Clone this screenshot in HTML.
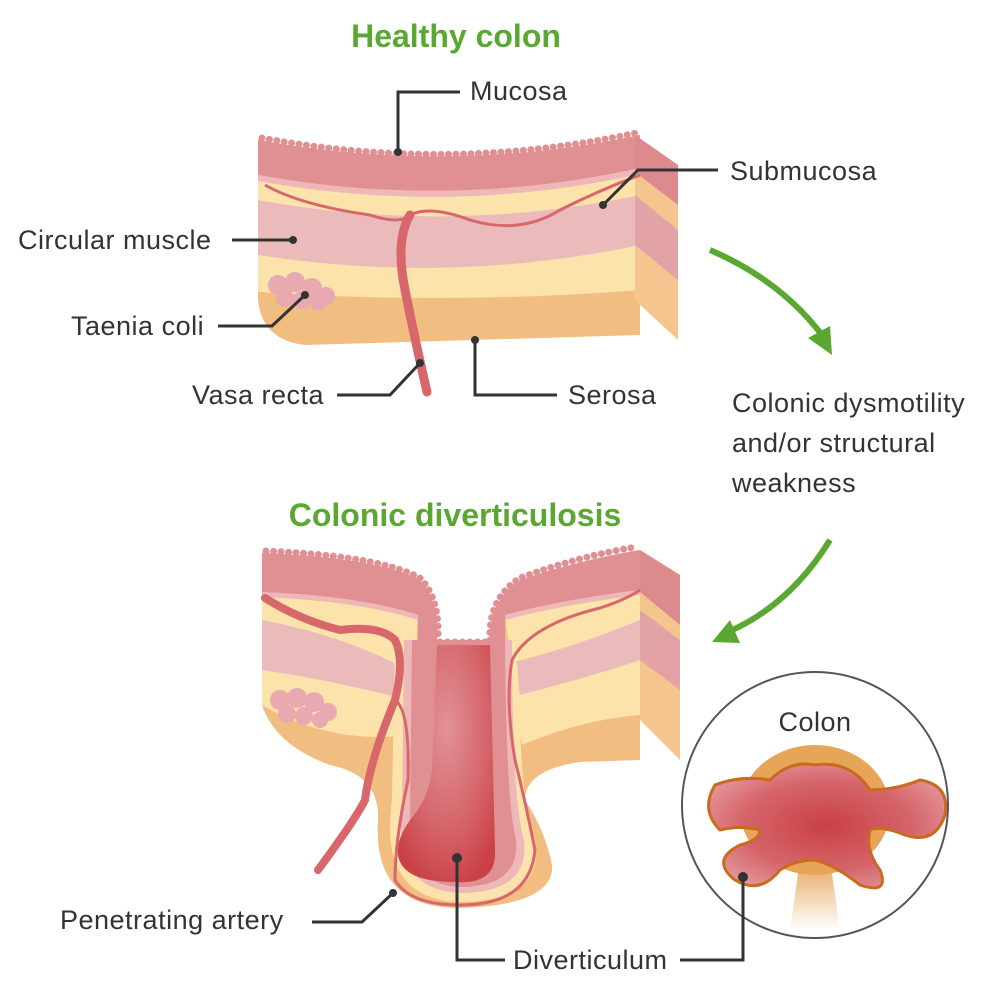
<!DOCTYPE html>
<html><head><meta charset="utf-8"><style>
body{margin:0;background:#fff}
svg{display:block}
text{font-family:"Liberation Sans",sans-serif;fill:#333;font-size:27px;letter-spacing:0.5px}
.t{fill:#5aa831;font-weight:bold;font-size:32px;letter-spacing:0}
.l{stroke:#333;stroke-width:3;fill:none}
.v{fill:none;stroke:#e09092;stroke-width:7;stroke-dasharray:0 7.5;stroke-linecap:round}
</style></head><body>
<svg width="1005" height="995" viewBox="0 0 1005 995">
<defs>
<radialGradient id="rg" cx="0.5" cy="0.35" r="0.7"><stop offset="0" stop-color="#e29296"/><stop offset="0.6" stop-color="#d5656b"/><stop offset="1" stop-color="#c94045"/></radialGradient>
<radialGradient id="cg" cx="0.5" cy="0.5" r="0.6"><stop offset="0" stop-color="#c94045"/><stop offset="0.6" stop-color="#d5656b"/><stop offset="1" stop-color="#e59ba0"/></radialGradient>
<linearGradient id="stem" x1="0" y1="0" x2="0" y2="1"><stop offset="0" stop-color="#e7a55a"/><stop offset="1" stop-color="#fff"/></linearGradient>
</defs>
<text class="t" x="456" y="47" text-anchor="middle">Healthy colon</text>
<g>
<path d="M258,140 Q450,175 640,135 L640,335 L305,345 Q262,340 258,300 Z" fill="#f2bd80"/>
<path d="M258,140 Q450,175 640,135 L640,290 Q450,305 258,292 Z" fill="#fbe3ab"/>
<path d="M258,200 Q450,235 640,195 L640,245 Q450,285 258,255 Z" fill="#ebbbbc"/>
<path d="M258,140 Q450,175 640,135 L640,168 Q450,210 258,175 Z" fill="#e09092"/>
<path d="M258,175 Q450,210 640,168 L640,174 Q450,216 258,181 Z" fill="#eeb7b8"/>
<path class="v" d="M262,138 Q450,173 636,133"/>
<polygon points="635,135 678,165 678,340 635,300" fill="#f4c58e"/>
<polygon points="635,135 678,165 678,205 635,172" fill="#dc8a8d"/>
<polygon points="635,195 678,230 678,280 635,245" fill="#e3a3a6"/>
<path d="M265,185 Q300,205 370,215 Q400,225 410,215 Q430,205 470,220 Q520,235 560,210 Q600,190 640,175" fill="none" stroke="#d8676b" stroke-width="3"/>
<path d="M410,215 Q395,240 405,290 Q415,340 427,392" fill="none" stroke="#d8676b" stroke-width="9" stroke-linecap="round"/>
<g fill="#e9a9b0"><circle cx="278" cy="285" r="10"/><circle cx="295" cy="282" r="10"/><circle cx="312" cy="288" r="10"/><circle cx="326" cy="296" r="9"/><circle cx="285" cy="298" r="9"/><circle cx="302" cy="300" r="9"/><circle cx="318" cy="303" r="8"/></g>
</g>
<path class="l" d="M398,152 V92 H460"/><circle cx="398" cy="152" r="4" fill="#333"/>
<text x="470" y="100">Mucosa</text>
<path class="l" d="M603,205 L638,170 H718"/><circle cx="603" cy="205" r="4" fill="#333"/>
<text x="730" y="180">Submucosa</text>
<path class="l" d="M232,240 H293"/><circle cx="293" cy="240" r="4" fill="#333"/>
<text x="18" y="249">Circular muscle</text>
<path class="l" d="M218,326 H272 L305,295"/><circle cx="305" cy="295" r="4" fill="#333"/>
<text x="71" y="335">Taenia coli</text>
<path class="l" d="M337,395 H390 L420,363"/><circle cx="420" cy="363" r="4" fill="#333"/>
<text x="192" y="404">Vasa recta</text>
<path class="l" d="M557,395 H475 V340"/><circle cx="475" cy="340" r="4" fill="#333"/>
<text x="568" y="404">Serosa</text>
<path d="M710,250 Q780,280 822,335" fill="none" stroke="#5aa831" stroke-width="6"/>
<polygon points="808,338 832,355 830,326" fill="#5aa831"/>
<path d="M830,540 Q790,605 728,632" fill="none" stroke="#5aa831" stroke-width="6"/>
<polygon points="730,620 712,642 740,643" fill="#5aa831"/>
<text x="732" y="412">Colonic dysmotility</text>
<text x="732" y="452">and/or structural</text>
<text x="732" y="492">weakness</text>
<text class="t" x="455" y="526" text-anchor="middle">Colonic diverticulosis</text>
<g>
<path d="M262,560 L262,705 Q275,745 330,765 Q380,775 378,820 Q372,908 460,908 Q555,905 552,865 Q545,830 525,800 Q525,770 580,762 L640,760 L640,560 L505,600 L505,640 L418,640 L418,600 Z" fill="#f2bd80"/>
<polygon points="640,550 680,575 680,760 640,720" fill="#f4c58e"/>
<polygon points="640,550 680,575 680,625 640,592" fill="#dc8a8d"/>
<polygon points="640,610 680,640 680,690 640,660" fill="#e3a3a6"/>
<path d="M262,592 Q360,600 418,612 L412,735 Q330,745 262,705 Z" fill="#fbe3ab"/>
<path d="M262,620 Q340,635 398,665 Q408,685 396,697 Q330,680 262,670 Z" fill="#ebbbbc"/>
<path d="M505,615 Q580,600 640,588 L640,715 Q580,720 522,745 L515,700 Z" fill="#fbe3ab"/>
<path d="M515,662 Q580,645 640,620 L640,660 Q580,680 515,696 Z" fill="#ebbbbc"/>
<path d="M395,640 L392,800 Q378,900 460,902 Q545,902 535,840 Q520,800 520,700 L515,640 Z" fill="#fbe3ab"/>
<path d="M404,640 L402,810 Q393,890 460,893 Q530,893 524,840 Q512,800 512,640 Z" fill="#eeb7b8"/>
<path d="M412,640 L410,820 Q403,884 460,887 Q520,887 516,840 Q506,800 505,640 Z" fill="#e09092"/>
<path d="M437,645 L432,770 Q428,800 410,820 Q396,840 398,855 Q402,882 455,882 Q497,885 495,850 L490,645 Z" fill="url(#rg)"/>
<path d="M262,553 Q380,558 420,580 Q440,600 437,645 L418,645 L418,615 Q360,596 262,592 Z" fill="#e09092"/>
<path d="M262,592 Q360,596 418,615 L418,620 Q360,601 262,597 Z" fill="#eeb7b8"/>
<path class="v" d="M266,551 Q380,556 420,578 Q440,598 438,640"/>
<path d="M490,645 Q488,600 520,580 Q580,560 640,550 L640,590 Q560,600 505,615 L505,645 Z" fill="#e09092"/>
<path d="M505,615 Q560,600 640,590 L640,595 Q560,605 505,620 Z" fill="#eeb7b8"/>
<path class="v" d="M490,640 Q488,598 520,578 Q580,556 636,547"/>
<path class="v" d="M440,642 L490,642"/>
<path d="M265,598 Q300,620 340,630 Q380,625 395,640 Q405,660 395,700 Q370,760 365,800 Q355,820 318,870" fill="none" stroke="#d8676b" stroke-width="8" stroke-linecap="round"/>
<path d="M395,700 Q410,710 408,780 Q395,840 395,880 Q410,905 460,905 Q530,905 535,850 Q525,800 515,760 Q505,700 512,660 Q530,625 600,608 Q625,600 640,590" fill="none" stroke="#d8676b" stroke-width="3"/>
<g fill="#e9a9b0"><circle cx="280" cy="700" r="10"/><circle cx="297" cy="698" r="10"/><circle cx="314" cy="702" r="10"/><circle cx="328" cy="712" r="9"/><circle cx="287" cy="714" r="9"/><circle cx="304" cy="716" r="9"/><circle cx="320" cy="720" r="8"/></g>
</g>
<circle cx="815" cy="805" r="133" fill="#fff" stroke="#555" stroke-width="2"/>
<text x="815" y="731" text-anchor="middle">Colon</text>
<path d="M800,860 L790,930 L840,930 L830,860 Z" fill="url(#stem)"/>
<ellipse cx="815" cy="810" rx="75" ry="65" fill="#e7a55a"/>
<path d="M770,780 Q790,760 815,765 Q850,760 870,790 Q895,790 920,780 Q950,785 945,815 Q935,845 905,835 Q880,825 870,830 Q865,850 880,870 Q890,895 860,885 Q835,865 815,860 Q795,860 780,870 Q760,895 735,880 Q710,860 740,845 Q760,840 760,830 Q740,825 720,830 Q700,810 715,785 Q740,775 770,780 Z" fill="url(#cg)" stroke="#c96a1e" stroke-width="3"/>
<path class="l" d="M457,858 V960 H505"/><circle cx="457" cy="858" r="5" fill="#333"/>
<path class="l" d="M680,960 H743 V877"/><circle cx="743" cy="877" r="5" fill="#333"/>
<text x="513" y="969">Diverticulum</text>
<path class="l" d="M312,922 H362 L393,893"/><circle cx="393" cy="893" r="4" fill="#333"/>
<text x="60" y="929">Penetrating artery</text>
</svg>
</body></html>
